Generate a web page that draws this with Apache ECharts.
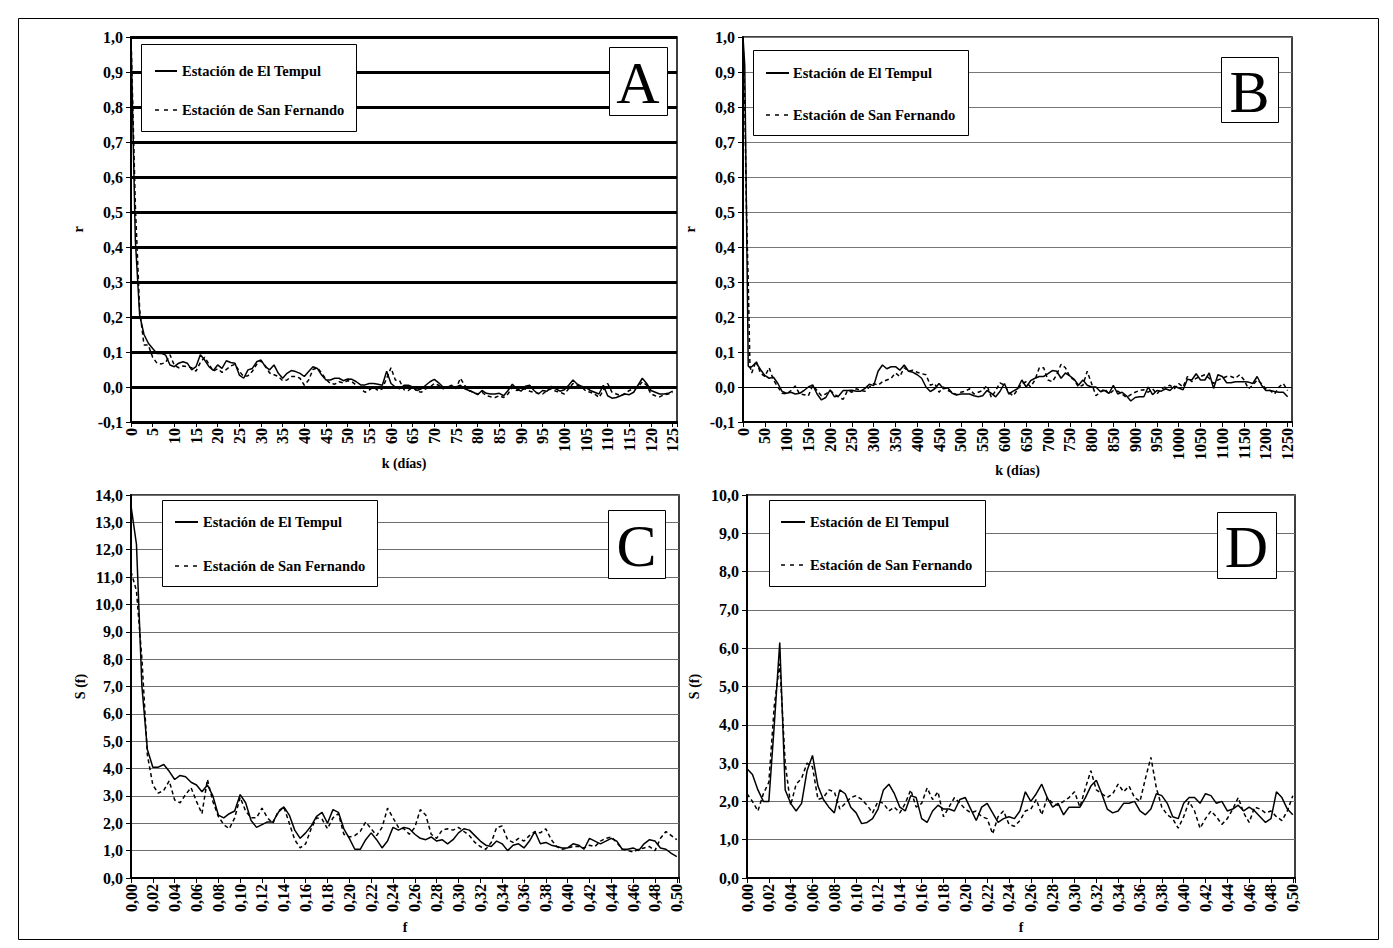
<!DOCTYPE html>
<html><head><meta charset="utf-8">
<script src="https://cdn.jsdelivr.net/npm/echarts@6/dist/echarts.min.js"></script>
<style>html,body{margin:0;padding:0;background:#fff}#c{width:1393px;height:948px}</style>
</head><body><div id="c"></div>
<script>
const nameT = 'Estación de El Tempul';
const nameS = 'Estación de San Fernando';
const panelLetters = ['A','B','C','D'];
const axisNamesX = ['k (días)','k (días)','f','f'];
const axisNamesY = ['r','r','S (f)','S (f)'];

// Panel A: lag k (0..125 days)
const kA = Array.from({length:126},(_,i)=>i);
const tempulA = [1.0,0.42,0.205,0.15,0.125,0.11,0.096,0.096,0.091,0.063,
0.058,0.068,0.072,0.068,0.049,0.058,0.092,0.077,0.058,0.047,
0.063,0.053,0.075,0.07,0.068,0.034,0.025,0.049,0.053,0.072,
0.077,0.058,0.049,0.063,0.039,0.025,0.039,0.047,0.044,0.039,
0.03,0.044,0.058,0.053,0.034,0.02,0.02,0.025,0.025,0.018,
0.023,0.022,0.015,0.006,0.006,0.01,0.01,0.008,0.005,0.045,
0.01,0.0,-0.005,0.005,0.005,0.0,-0.01,-0.005,0.005,0.015,
0.022,0.012,0.0,-0.003,0.002,0.0,0.005,-0.005,-0.01,-0.015,
-0.022,-0.01,-0.018,-0.02,-0.02,-0.018,-0.025,-0.01,0.008,-0.005,
-0.012,0.002,0.005,-0.01,-0.02,-0.01,-0.012,0.002,-0.005,-0.012,
-0.008,0.005,0.02,0.008,0.002,-0.002,-0.01,-0.015,-0.02,0.005,
-0.025,-0.032,-0.03,-0.025,-0.02,-0.022,-0.015,0.005,0.025,0.01,
-0.01,-0.015,-0.02,-0.02,-0.018,-0.012];
const sanfernA = [1.0,0.52,0.22,0.12,0.12,0.085,0.068,0.066,0.07,0.092,
0.062,0.055,0.06,0.058,0.055,0.045,0.07,0.085,0.065,0.045,
0.052,0.042,0.05,0.06,0.065,0.045,0.03,0.032,0.045,0.065,
0.075,0.06,0.04,0.035,0.03,0.018,0.02,0.03,0.03,0.025,
0.005,0.02,0.05,0.055,0.04,0.022,0.01,0.008,0.015,0.012,
0.018,0.015,0.005,-0.005,-0.015,-0.008,0.0,-0.01,-0.005,0.025,
0.055,0.02,0.018,-0.008,-0.01,0.0,-0.012,-0.015,-0.005,0.0,
0.01,0.005,-0.005,0.0,0.005,-0.005,0.025,0.005,-0.01,-0.015,
-0.02,-0.015,-0.025,-0.028,-0.03,-0.025,-0.03,-0.02,0.0,-0.01,
-0.008,-0.005,-0.012,-0.015,-0.018,-0.02,-0.01,-0.005,-0.012,-0.015,
-0.02,-0.005,0.01,0.005,0.0,-0.012,-0.015,-0.02,-0.03,-0.01,
0.01,-0.015,-0.02,-0.025,-0.018,-0.01,-0.005,0.0,0.015,0.005,
-0.02,-0.025,-0.028,-0.022,-0.02,-0.015];

// Panel B: lag k (0..1250 days)
const kB = [0,4,8,12,16].concat(Array.from({length:124},(_,i)=>20+i*10));
const tempulB = [1.0,0.92,0.5,0.06,0.055,
0.058,0.07,0.05,0.033,0.025,0.028,0.01,-0.013,-0.018,-0.015,
-0.02,-0.018,-0.01,0.0,0.006,-0.02,-0.037,-0.03,-0.008,-0.028,
-0.025,-0.01,-0.01,-0.009,-0.012,-0.012,-0.004,0.008,0.004,0.045,
0.063,0.052,0.058,0.058,0.048,0.063,0.045,0.042,0.035,0.025,
0.0,-0.013,-0.005,0.01,-0.005,-0.002,-0.018,-0.023,-0.02,-0.02,
-0.02,-0.025,-0.028,-0.025,-0.01,-0.018,-0.028,-0.012,0.01,-0.02,
-0.012,-0.005,0.02,0.0,0.018,0.025,0.03,0.03,0.038,0.047,
0.045,0.025,0.04,0.032,0.022,0.005,0.02,0.005,0.0,0.0,
-0.013,-0.01,-0.018,0.005,-0.02,-0.015,-0.025,-0.04,-0.03,-0.028,
-0.028,0.0,-0.022,-0.01,-0.012,-0.005,-0.01,0.002,-0.003,-0.008,
0.022,0.02,0.038,0.02,0.02,0.04,-0.004,0.035,0.03,0.012,
0.012,0.015,0.015,0.015,0.014,0.01,0.03,0.005,-0.01,-0.01,
-0.013,-0.015,-0.015,-0.028];
const sanfernB = [1.0,0.81,0.5,0.3,0.06,
0.04,0.075,0.04,0.03,0.055,0.02,0.0,-0.018,-0.02,-0.01,
0.003,-0.02,-0.022,-0.025,0.005,-0.01,-0.025,-0.02,-0.01,-0.02,
-0.03,-0.035,-0.01,-0.015,-0.005,-0.01,-0.012,0.0,0.01,0.005,
0.015,0.02,0.025,0.04,0.03,0.055,0.045,0.048,0.042,0.038,
0.035,0.005,0.01,-0.015,0.0,-0.01,-0.015,-0.022,-0.015,-0.012,
-0.005,-0.02,-0.015,-0.01,0.005,-0.03,-0.01,0.012,0.005,-0.015,
-0.025,-0.008,0.01,0.015,0.0,0.02,0.055,0.055,0.02,0.015,
0.035,0.065,0.055,0.03,0.02,0.0,0.005,0.045,0.01,-0.025,
-0.015,-0.005,-0.02,-0.01,-0.012,-0.02,-0.03,-0.022,-0.015,-0.01,
-0.008,-0.015,-0.005,-0.02,-0.005,0.0,0.005,-0.005,0.01,0.0,
0.03,0.015,0.025,0.03,0.035,0.025,0.01,0.02,0.025,0.03,
0.03,0.025,0.035,0.02,-0.005,0.005,0.02,0.01,-0.005,-0.01,
-0.02,0.0,0.01,-0.01];

// Panels C and D: frequency f (0..0.5)
const fCD = Array.from({length:101},(_,i)=>+(i*0.005).toFixed(3));
const tempulC = [13.6,12.2,7.0,4.7,4.05,4.05,4.15,3.9,3.6,3.75,
3.7,3.5,3.4,3.15,3.4,3.0,2.3,2.2,2.35,2.45,
3.05,2.75,2.1,1.85,1.95,2.05,2.05,2.4,2.6,2.3,
1.75,1.45,1.65,1.9,2.25,2.4,2.0,2.5,2.4,1.8,
1.45,1.05,1.05,1.4,1.65,1.4,1.1,1.35,1.85,1.75,
1.85,1.8,1.6,1.45,1.4,1.5,1.35,1.4,1.25,1.4,
1.65,1.8,1.75,1.55,1.35,1.2,1.15,1.35,1.25,1.0,
1.2,1.25,1.1,1.35,1.7,1.25,1.3,1.2,1.15,1.1,
1.1,1.25,1.2,1.05,1.45,1.35,1.25,1.35,1.45,1.35,
1.05,1.05,1.1,1.0,1.25,1.4,1.35,1.1,1.05,0.9,
0.78];
const sanfernC = [11.2,10.5,8.0,4.5,3.4,3.1,3.2,3.55,2.85,2.75,
3.05,3.3,2.8,2.35,3.6,2.8,2.25,1.95,1.8,2.2,
2.95,2.45,2.2,2.2,2.55,2.2,2.0,2.45,2.6,2.0,
1.4,1.1,1.25,1.8,2.2,2.15,1.8,2.2,2.35,1.6,
1.5,1.55,1.7,2.05,1.8,1.55,1.85,2.55,2.2,1.85,
1.8,1.6,1.85,2.5,2.3,1.6,1.45,1.75,1.8,1.75,
1.85,1.7,1.55,1.3,1.15,1.05,1.3,1.85,1.9,1.4,
1.3,1.45,1.35,1.55,1.7,1.65,1.8,1.4,1.15,1.05,
1.1,1.15,1.15,1.1,1.2,1.15,1.35,1.45,1.5,1.3,
1.05,1.0,0.95,1.05,1.1,1.15,1.0,1.45,1.7,1.55,
1.4];
const tempulD = [2.85,2.7,2.3,2.0,2.0,4.0,6.15,2.3,1.95,1.75,
1.95,2.8,3.2,2.4,2.05,1.85,1.7,2.3,2.2,1.85,
1.7,1.42,1.45,1.55,1.8,2.3,2.45,2.2,1.85,1.75,
2.15,2.1,1.55,1.45,1.75,1.9,1.8,1.8,1.75,2.05,
2.1,1.8,1.5,1.85,1.95,1.7,1.45,1.55,1.6,1.55,
1.75,2.25,2.0,2.2,2.45,2.1,1.85,1.95,1.65,1.85,
1.85,1.85,2.1,2.4,2.55,2.2,1.8,1.7,1.75,1.95,
1.95,2.0,1.75,1.65,1.8,2.2,2.15,1.95,1.6,1.55,
1.95,2.1,2.1,1.95,2.2,2.15,1.95,2.0,1.75,1.8,
1.9,1.75,1.85,1.75,1.6,1.45,1.55,2.25,2.1,1.8,
1.65];
const sanfernD = [2.2,2.0,1.75,2.2,2.5,4.5,5.6,3.0,1.9,2.45,
2.6,3.0,2.9,2.05,2.1,2.3,2.25,1.8,1.95,2.1,
2.15,2.05,1.9,1.7,2.0,1.95,1.75,1.85,1.7,1.95,
2.3,1.85,1.95,2.35,2.05,2.25,1.6,1.85,2.1,1.95,
1.8,1.7,1.75,1.6,1.55,1.15,1.6,1.75,1.4,1.35,
1.5,1.75,1.8,2.05,1.65,2.1,1.95,1.9,2.0,2.1,
2.25,1.85,2.35,2.8,2.3,2.2,2.1,2.2,2.45,2.25,
2.4,2.1,2.0,2.6,3.15,2.35,1.85,1.65,1.55,1.3,
1.6,2.0,1.75,1.3,1.55,1.75,1.6,1.4,1.55,1.8,
2.1,1.7,1.45,1.85,1.8,1.7,1.75,1.6,1.5,1.75,
2.15];

const FONT = 'Liberation Serif';
const lblStyle = {fontFamily: FONT, fontWeight: 'bold', fontSize: 16, color: '#000'};
const nameStyle = {fontFamily: FONT, fontWeight: 'bold', fontSize: 14, color: '#000'};
const legendFont = 'bold 14.5px "Liberation Serif"';

const panels = [
  {grid:{left:131, top:37, width:546, height:385}, x:kA, t:tempulA, s:sanfernA,
   xmin:0, xmax:126, xint:5, xdec:0, ymin:-0.1, ymax:1.0, yint:0.1,
   xGap:34, yGap:46, split:{color:'#000', width:3},
   leg:{x1:155, x2:177, tx:182, y1:71, y2:110}, lbox:[141,44,215,87], letter:[609,47,58,68]},
  {grid:{left:743, top:37, width:549, height:385}, x:kB, t:tempulB, s:sanfernB,
   xmin:0, xmax:1260, xint:50, xdec:0, ymin:-0.1, ymax:1.0, yint:0.1,
   xGap:38, yGap:46, split:{color:['#777','#000','#777','#777','#777','#777','#777','#777','#777','#777','#777','#777'], width:1},
   leg:{x1:766, x2:789, tx:793, y1:73, y2:115}, lbox:[753,50,215,85], letter:[1221,57,57,65]},
  {grid:{left:131, top:495, width:548, height:383}, x:fCD, t:tempulC, s:sanfernC,
   xmin:0, xmax:0.502, xint:0.02, xdec:2, ymin:0, ymax:14, yint:1,
   xGap:42, yGap:44, split:{color:'#6e6e6e', width:1},
   leg:{x1:175, x2:198, tx:203, y1:522, y2:566}, lbox:[162,500,215,86], letter:[608,510,57,68]},
  {grid:{left:747, top:495, width:548, height:383}, x:fCD, t:tempulD, s:sanfernD,
   xmin:0, xmax:0.502, xint:0.02, xdec:2, ymin:0, ymax:10, yint:1,
   xGap:42, yGap:46, split:{color:'#6e6e6e', width:1},
   leg:{x1:781, x2:805, tx:810, y1:522, y2:565}, lbox:[769,500,216,86], letter:[1217,512,59,66]}
];

function fmtComma(v, dec){ if (Math.abs(v) < 1e-9) v = 0; return v.toFixed(dec).replace('.', ','); }

const grids = [], xAxes = [], yAxes = [], series = [], graphics = [];
panels.forEach((p, i) => {
  grids.push(Object.assign({show:true, borderColor:'#000', borderWidth:1.5, backgroundColor:'#fff', containLabel:false}, p.grid));
  xAxes.push({gridIndex:i, type:'value', min:p.xmin, max:p.xmax, interval:p.xint,
    axisLine:{show:true, onZero:false, lineStyle:{color:'#000', width:2}},
    axisTick:{show:true, inside:false, length:5, lineStyle:{color:'#000', width:1}},
    axisLabel:Object.assign({rotate:90, margin:6, formatter:(v)=>{
      const r = v / p.xint; if (Math.abs(r - Math.round(r)) > 1e-6) return '';
      return fmtComma(v, p.xdec);}}, lblStyle),
    splitLine:{show:false},
    name:axisNamesX[i], nameLocation:'middle', nameGap:p.xGap, nameTextStyle:nameStyle});
  yAxes.push({gridIndex:i, type:'value', min:p.ymin, max:p.ymax, interval:p.yint,
    axisLine:{show:true, onZero:false, lineStyle:{color:'#000', width:2}},
    axisTick:{show:true, inside:false, length:5, lineStyle:{color:'#000', width:1}},
    axisLabel:Object.assign({margin:8, formatter:(v)=>fmtComma(v,1)}, lblStyle),
    splitLine:{show:true, lineStyle:p.split},
    name:axisNamesY[i], nameLocation:'middle', nameGap:p.yGap, nameRotate:90, nameTextStyle:nameStyle});
  series.push({name:nameT, type:'line', xAxisIndex:i, yAxisIndex:i, symbol:'none', z:3,
    lineStyle:{color:'#000', width:1.5, type:'solid'}, itemStyle:{color:'#000'},
    data:p.x.map((xv,j)=>[xv, p.t[j]])});
  series.push({name:nameS, type:'line', xAxisIndex:i, yAxisIndex:i, symbol:'none', z:3,
    lineStyle:{color:'#000', width:1.5, type:[4,3]}, itemStyle:{color:'#000'},
    data:p.x.map((xv,j)=>[xv, p.s[j]])});
  // legend box (drawn as graphics so the box matches the reference)
  const b = p.lbox, g = p.leg;
  graphics.push({type:'rect', z:10, shape:{x:b[0]+0.5, y:b[1]+0.5, width:b[2], height:b[3]},
    style:{fill:'#fff', stroke:'#000', lineWidth:1}});
  graphics.push({type:'line', z:11, shape:{x1:g.x1, y1:g.y1, x2:g.x2, y2:g.y1},
    style:{stroke:'#000', lineWidth:2}});
  graphics.push({type:'line', z:11, shape:{x1:g.x1, y1:g.y2, x2:g.x2, y2:g.y2},
    style:{stroke:'#000', lineWidth:1.5, lineDash:[4,5]}});
  graphics.push({type:'text', z:11, x:g.tx, y:g.y1,
    style:{text:nameT, font:legendFont, fill:'#000', align:'left', verticalAlign:'middle'}});
  graphics.push({type:'text', z:11, x:g.tx, y:g.y2,
    style:{text:nameS, font:legendFont, fill:'#000', align:'left', verticalAlign:'middle'}});
  const L = p.letter;
  graphics.push({type:'rect', z:10, shape:{x:L[0]+0.5, y:L[1]+0.5, width:L[2], height:L[3]},
    style:{fill:'#fff', stroke:'#000', lineWidth:1}});
  graphics.push({type:'text', z:11, x:L[0]+L[2]/2, y:L[1]+L[3]/2+2,
    style:{text:panelLetters[i], font:'60px "Liberation Serif"', fill:'#000', align:'center', verticalAlign:'middle'}});
});
graphics.push({type:'rect', z:1, shape:{x:18.5, y:18.5, width:1360, height:921}, style:{fill:'none', stroke:'#000', lineWidth:1}});

const chart = echarts.init(document.getElementById('c'), null, {renderer:'svg'});
chart.setOption({animation:false, backgroundColor:'#fff', textStyle:{fontFamily:FONT},
  grid:grids, xAxis:xAxes, yAxis:yAxes, series:series, graphic:{elements:graphics}});
</script></body></html>
